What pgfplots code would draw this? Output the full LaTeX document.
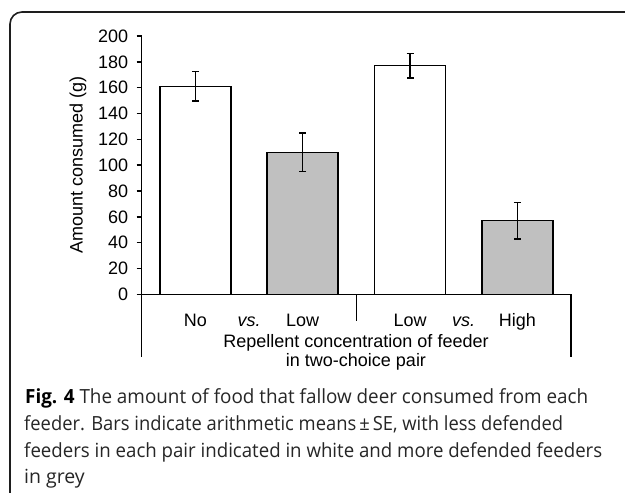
\documentclass[border=0pt]{standalone}
\usepackage{graphicx}
\usepackage{pgfplots}
\pgfplotsset{compat=1.18}
\usepackage{fontspec}
\setmainfont{Liberation Sans}
\newfontfamily\capfont{Open Sans}
\definecolor{bargrey}{RGB}{192,192,192}
\definecolor{framec}{RGB}{30,30,30}
\newcommand{\cf}{\fontsize{18}{20}\selectfont}
\begin{document}
\begin{tikzpicture}[x=1pt,y=1pt]
\useasboundingbox (0,0) rectangle (625,493);
\fill[white] (0,0) rectangle (625,493);
\draw[line width=1.6pt, color=framec, rounded corners=12pt] (10,0) -- (10,481) -- (625,481);
\begin{axis}[
  at={(141.7pt,198.7pt)}, anchor=south west,
  scale only axis, width=429.3pt, height=258.3pt,
  xmin=-0.5, xmax=3.5, ymin=0, ymax=200,
  axis x line=bottom, axis y line=left,
  axis line style={-, line width=1.4pt},
  ytick={0,20,...,200},
  tick align=outside, major tick length=5pt,
  ytick style={line width=1.4pt, black},
  xtick={0,0.5,1,2,2.5,3},
  xticklabels={No,\textit{vs.},Low,Low,\textit{vs.},High},
  xtick style={draw=none},
  xticklabel style={anchor=base, yshift=-27.4pt, font=\cf},
  yticklabel style={anchor=east, xshift=-5pt, font=\cf},
  /pgf/number format/assume math mode=true,
  clip=false,
]
\addplot[ybar, bar width=71pt, bar shift=0pt, fill=white, draw=black, line width=1.4pt,
  error bars/.cd, y dir=both, y explicit,
  error bar style={line width=1.4pt, black},
  error mark options={rotate=90, mark size=3.5pt, line width=1.4pt, black}]
  coordinates {(0,161) +- (0,11.4) (2,177) +- (0,9.5)};
\addplot[ybar, bar width=71pt, bar shift=0pt, fill=bargrey, draw=black, line width=1.4pt,
  error bars/.cd, y dir=both, y explicit,
  error bar style={line width=1.4pt, black},
  error mark options={rotate=90, mark size=3.5pt, line width=1.4pt, black}]
  coordinates {(1,110) +- (0,15) (3,57) +- (0,14.2)};
\draw[line width=1.4pt] (axis cs:-0.5,0) -- ++(0pt,-62.4pt);
\draw[line width=1.4pt] (axis cs:1.5,0) -- ++(0pt,-26.4pt);
\draw[line width=1.4pt] (axis cs:3.5,0) -- ++(0pt,-62.4pt);
\end{axis}
\node[rotate=90, font=\cf] at (78,328) {Amount consumed (g)};
\node[anchor=base, font=\cf] at (356,145.3) {Repellent concentration of feeder};
\node[anchor=base, font=\cf] at (356,126) {in two-choice pair};
\begin{scope}[every node/.style={anchor=base west, inner sep=0pt, text=black!85, font=\capfont\fontsize{19.5}{21}\selectfont}]
\node at (25,89) {\resizebox{563pt}{\height}{\textbf{\color{black}Fig. 4} The amount of food that fallow deer consumed from each}};
\node at (24,62) {\resizebox{539pt}{\height}{feeder. Bars indicate arithmetic means\,±\,SE, with less defended}};
\node at (24,35) {\resizebox{578pt}{\height}{feeders in each pair indicated in white and more defended feeders}};
\node at (24,9) {in grey};
\end{scope}
\end{tikzpicture}
\end{document}
